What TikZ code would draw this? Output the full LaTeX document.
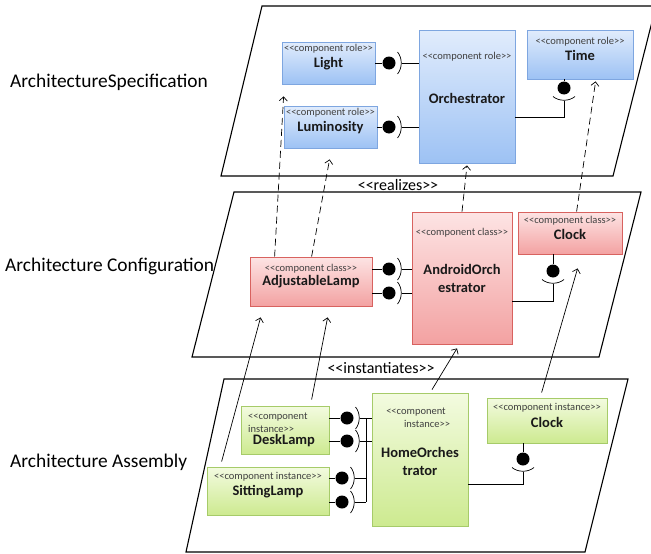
\documentclass[tikz,border=0pt]{standalone}
\usepackage{fontspec}
\setmainfont{Carlito}[Ligatures=TeXOff]
\usetikzlibrary{arrows.meta,calc,shadows}
\definecolor{roletop}{HTML}{E1ECFC}
\definecolor{rolebot}{HTML}{9DC2F4}
\definecolor{rolebd}{HTML}{7EA6E0}
\definecolor{classtop}{HTML}{FDE4E4}
\definecolor{classbot}{HTML}{F3A2A2}
\definecolor{classbd}{HTML}{D8625F}
\definecolor{insttop}{HTML}{F3FBE0}
\definecolor{instbot}{HTML}{CDEA90}
\definecolor{instbd}{HTML}{A6CB69}
\definecolor{stgray}{HTML}{404040}
\tikzset{
  box/.style={draw, line width=0.8pt, inner sep=0,
    drop shadow={shadow xshift=1.2pt,shadow yshift=-1.2pt,opacity=0.25,fill=black}},
  rolebox/.style={box, draw=rolebd, top color=roletop, bottom color=rolebot},
  classbox/.style={box, draw=classbd, top color=classtop, bottom color=classbot},
  instbox/.style={box, draw=instbd, top color=insttop, bottom color=instbot},
  stereo/.style={font=\fontsize{10.5}{12}\selectfont, text=stgray, inner sep=0},
  nm/.style={font=\fontsize{14.5}{18}\selectfont\bfseries, text=black!90, inner sep=0, align=center},
  lbl/.style={font=\fontsize{19.4}{22}\selectfont, anchor=west, inner sep=0},
  rel/.style={font=\fontsize{16}{19}\selectfont, inner sep=0},
  ball/.style={circle, fill=black, minimum size=13pt, inner sep=0},
  conn/.style={line width=0.7pt},
  plane/.style={line width=1.1pt},
  dashconn/.style={conn, dash pattern=on 7pt off 4pt, -{Straight Barb[length=4pt,width=8pt]}},
  instconn/.style={conn, -{Straight Barb[length=4pt,width=8pt]}},
  sockR/.pic={\draw[conn] (8.5,-11) .. controls (13.5,-5) and (13.5,5) .. (8.5,11);},
  sockD/.pic={\draw[conn] (-11,8.5) .. controls (-5,13.5) and (5,13.5) .. (11,8.5);}
}
\begin{document}
\begin{tikzpicture}[x=1pt,y=-1pt]
\useasboundingbox (0,0) rectangle (651,554);
\clip (0,0) rectangle (651,554);
% planes
\draw[plane] (262,6) -- (656,6) -- (613,176) -- (221,176) -- cycle;
\draw[plane] (234,192) -- (641,192) -- (599,357) -- (192,357) -- cycle;
\draw[plane] (224,379) -- (628,379) -- (585,552) -- (186,552) -- cycle;
% layer labels
\node[lbl] (lspec) at (10,82) {ArchitectureSpecification};
\node[lbl] (lconf) at (5,266) {Architecture Configuration};
\node[lbl] (lasm) at (10,462) {Architecture Assembly};
\node[rel] (realizes) at (398,185) {<<realizes>>};
\node[rel] (instantiates) at (381,368) {<<instantiates>>};

% ---- specification layer
\node[rolebox, minimum width=93pt, minimum height=42pt] (light) at (328.5,63) {};
\node[stereo] (lightst) at (328.5,49) {<<component role>>};
\node[nm] (lightnm) at (328.5,64) {Light};
\node[rolebox, minimum width=93pt, minimum height=42pt] (lum) at (330.5,127) {};
\node[stereo] (lumst) at (330.5,113) {<<component role>>};
\node[nm] (lumnm) at (330.5,128) {Luminosity};
\node[rolebox, minimum width=96pt, minimum height=133pt] (orch) at (467,96.5) {};
\node[stereo] (orchst) at (467,57) {<<component role>>};
\node[nm] (orchnm) at (467,98) {Orchestrator};
\node[rolebox, minimum width=106pt, minimum height=49pt] (time) at (580,54.5) {};
\node[stereo] (timest) at (580,42) {<<component role>>};
\node[nm] (timenm) at (580,55) {Time};

\node[ball] (bl1) at (389,63) {};
\draw[conn] (light.east) -- (bl1);
\pic at (bl1) {sockR};
\coordinate (sl1) at ($(bl1)+(12.5,0)$);
\draw[conn] (sl1) -- (sl1 -| orch.west);
\node[ball] (bl2) at (389,127) {};
\draw[conn] (lum.east) -- (bl2);
\pic at (bl2) {sockR};
\coordinate (sl2) at ($(bl2)+(12.5,0)$);
\draw[conn] (sl2) -- (sl2 -| orch.west);
\node[ball] (bt) at (564,88) {};
\draw[conn] (bt |- time.south) -- (bt);
\pic at (bt) {sockD};
\coordinate (st) at ($(bt)+(0,12.5)$);
\draw[conn] (st) |- ($(orch.east)+(0,20.5)$);

% ---- configuration layer
\node[classbox, minimum width=122pt, minimum height=49pt] (adj) at (311,281.5) {};
\node[stereo] (adjst) at (311,269) {<<component class>>};
\node[nm] (adjnm) at (311,282) {AdjustableLamp};
\node[classbox, minimum width=100pt, minimum height=132pt] (aorch) at (462,278) {};
\node[stereo] (aorchst) at (462,233) {<<component class>>};
\node[nm] (aorchnm) at (462,278) {AndroidOrch\\estrator};
\node[classbox, minimum width=104pt, minimum height=42pt] (clock) at (570,233) {};
\node[stereo] (clockst) at (570,221) {<<component class>>};
\node[nm] (clocknm) at (570,234) {Clock};

\node[ball] (ba1) at (389,269) {};
\draw[conn] (adj.east |- ba1) -- (ba1);
\pic at (ba1) {sockR};
\coordinate (sa1) at ($(ba1)+(12.5,0)$);
\draw[conn] (sa1) -- (sa1 -| aorch.west);
\node[ball] (ba2) at (389,293) {};
\draw[conn] (adj.east |- ba2) -- (ba2);
\pic at (ba2) {sockR};
\coordinate (sa2) at ($(ba2)+(12.5,0)$);
\draw[conn] (sa2) -- (sa2 -| aorch.west);
\node[ball] (bc) at (553,271) {};
\draw[conn] (bc |- clock.south) -- (bc);
\pic at (bc) {sockD};
\coordinate (sc) at ($(bc)+(0,12.5)$);
\draw[conn] (sc) |- ($(aorch.east)+(0,23)$);

% ---- assembly layer
\node[instbox, minimum width=88pt, minimum height=48pt] (desk) at (285,430) {};
\node[stereo, anchor=west] (deskst1) at (248,417) {<<component};
\node[stereo, anchor=west] (deskst2) at (248,429) {instance>>};
\node[nm] (desknm) at (284,441) {DeskLamp};
\node[instbox, minimum width=122pt, minimum height=48pt] (sit) at (268,491) {};
\node[stereo] (sitst) at (268,477) {<<component instance>>};
\node[nm] (sitnm) at (268,492) {SittingLamp};
\node[instbox, minimum width=96pt, minimum height=133pt] (horch) at (420,459.5) {};
\node[stereo] (horchst1) at (416,412) {<<component};
\node[stereo] (horchst2) at (427,424) {instance>>};
\node[nm] (horchnm) at (420,461) {HomeOrches\\trator};
\node[instbox, minimum width=120pt, minimum height=45pt] (iclock) at (547,420.5) {};
\node[stereo] (iclockst) at (547,408) {<<component instance>>};
\node[nm] (iclocknm) at (547,422) {Clock};

\coordinate (bartop) at (366,418);
\coordinate (barbot) at (366,502);
\draw[conn] (bartop) -- (barbot);
\node[ball] (bd1) at (347,418) {};
\draw[conn] (desk.east |- bd1) -- (bd1);
\pic at (bd1) {sockR};
\coordinate (sd1) at ($(bd1)+(12.5,0)$);
\draw[conn] (sd1) -- (sd1 -| horch.west);
\node[ball] (bd2) at (347,441) {};
\draw[conn] (desk.east |- bd2) -- (bd2);
\pic at (bd2) {sockR};
\coordinate (sd2) at ($(bd2)+(12.5,0)$);
\draw[conn] (sd2) -- (sd2 -| horch.west);
\node[ball] (bs1) at (342,478) {};
\draw[conn] (sit.east |- bs1) -- (bs1);
\pic at (bs1) {sockR};
\coordinate (ss1) at ($(bs1)+(12.5,0)$);
\draw[conn] (ss1) -- (ss1 -| bartop);
\node[ball] (bs2) at (342,502) {};
\draw[conn] (sit.east |- bs2) -- (bs2);
\pic at (bs2) {sockR};
\coordinate (ss2) at ($(bs2)+(12.5,0)$);
\draw[conn] (ss2) -- (ss2 -| bartop);
\node[ball] (bic) at (523,459) {};
\draw[conn] (bic |- iclock.south) -- (bic);
\pic at (bic) {sockD};
\coordinate (sic) at ($(bic)+(0,12.5)$);
\draw[conn] (sic) |- ($(horch.east)+(0,24.5)$);

% ---- realizes (dashed)
\draw[dashconn] ($(adj.north west)+(25,0)$) -- ($(light.south west)+(2,12)$);
\draw[dashconn] ($(adj.north west)+(62,0)$) -- ($(lum.south west)+(46,11)$);
\draw[dashconn] (aorch.north) -- ($(orch.south)+(0,2)$);
\draw[dashconn] ($(clock.north west)+(59,0)$) -- ($(time.south west)+(69,2)$);
% ---- instantiates (solid)
\draw[instconn] ($(sit.north west)+(15,-5)$) -- ($(adj.south west)+(11,11)$);
\draw[instconn] ($(desk.north west)+(71,-6)$) -- ($(adj.south west)+(78,11)$);
\draw[instconn] ($(horch.north)+(12,-3)$) -- ($(aorch.south)+(-5,4)$);
\draw[instconn] ($(iclock.north west)+(55,-5)$) -- ($(clock.south west)+(60,14)$);
\end{tikzpicture}
\end{document}
